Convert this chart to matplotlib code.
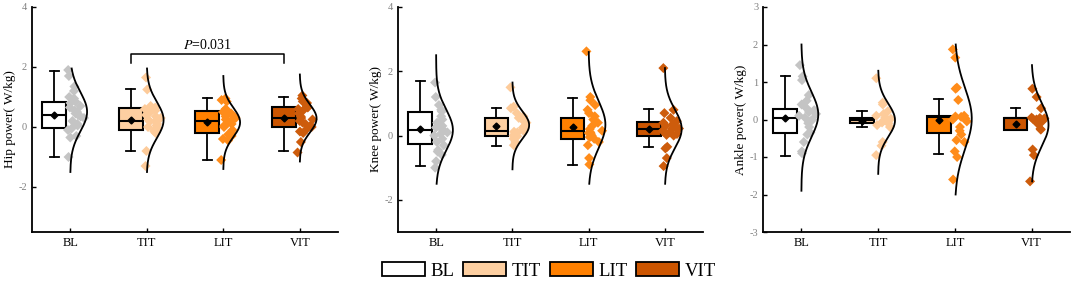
import numpy as np
import matplotlib
matplotlib.use("Agg")
import matplotlib.pyplot as plt
from matplotlib.patches import Patch

plt.rcParams['font.family'] = ['Liberation Serif', 'DejaVu Serif']
plt.rcParams['mathtext.fontset'] = 'stix'
plt.rcParams['axes.unicode_minus'] = False

# ---------------- data ----------------
groups = ['BL', 'TIT', 'LIT', 'VIT']
box_colors = ['#FFFFFF', '#FDCFA1', '#FF8000', '#CC5500']
dot_colors = ['#C4C4C4', '#FDCB9A', '#FF8C1A', '#CD5C0C']

# box statistics per group: BL, TIT, LIT, VIT
hip_whislo = [-0.99, -0.81, -1.09, -0.80]
hip_q1 = [-0.04, -0.11, -0.20, 0.01]
hip_med = [0.40, 0.19, 0.21, 0.31]
hip_q3 = [0.82, 0.63, 0.52, 0.66]
hip_whishi = [1.87, 1.26, 0.96, 1.00]
hip_mean = [0.40, 0.22, 0.18, 0.30]

knee_whislo = [-0.96, -0.33, -0.93, -0.36]
knee_q1 = [-0.26, -0.02, -0.11, 0.00]
knee_med = [0.16, 0.13, 0.13, 0.22]
knee_q3 = [0.73, 0.55, 0.55, 0.42]
knee_whishi = [1.69, 0.86, 1.18, 0.82]
knee_mean = [0.21, 0.29, 0.26, 0.20]

ankle_whislo = [-0.96, -0.20, -0.92, -0.27]
ankle_q1 = [-0.36, -0.10, -0.36, -0.27]
ankle_med = [0.04, -0.02, 0.07, 0.03]
ankle_q3 = [0.27, 0.04, 0.09, 0.04]
ankle_whishi = [1.15, 0.22, 0.55, 0.31]
ankle_mean = [0.04, -0.05, 0.00, -0.11]

# individual observations
hip_points = [
    [1.9, 1.7, 1.35, 1.2, 1.0, 0.95, 0.85, 0.8, 0.7, 0.65, 0.55, 0.5, 0.45, 0.4,
     0.35, 0.3, 0.2, 0.1, 0.05, -0.05, -0.1, -0.3, -0.35, -1.0],
    [1.65, 1.25, 0.7, 0.65, 0.6, 0.55, 0.5, 0.4, 0.35, 0.3, 0.25, 0.2, 0.18, 0.1,
     0.05, 0.0, -0.05, -0.1, -0.15, -0.2, -0.8, -1.3],
    [0.95, 0.9, 0.85, 0.6, 0.55, 0.5, 0.45, 0.35, 0.3, 0.25, 0.2, 0.15, 0.1, 0.05,
     0.0, -0.1, -0.2, -0.25, -0.3, -0.4, -0.45, -1.1],
    [1.05, 0.95, 0.85, 0.8, 0.7, 0.65, 0.6, 0.55, 0.45, 0.35, 0.3, 0.25, 0.2, 0.15,
     0.1, 0.05, 0.0, -0.05, -0.15, -0.2, -0.5, -0.85],
]
knee_points = [
    [1.65, 1.2, 0.95, 0.8, 0.75, 0.6, 0.5, 0.4, 0.3, 0.25, 0.2, 0.15, 0.1, 0.05,
     0.0, -0.1, -0.2, -0.3, -0.45, -0.5, -0.6, -0.8, -1.0],
    [1.5, 0.9, 0.85, 0.7, 0.6, 0.55, 0.5, 0.4, 0.3, 0.25, 0.2, 0.15, 0.12, 0.1,
     0.05, 0.0, -0.02, -0.1, -0.2, -0.3],
    [2.62, 1.2, 1.1, 0.95, 0.8, 0.7, 0.6, 0.5, 0.4, 0.3, 0.2, 0.15, 0.1, 0.08,
     0.05, 0.0, -0.05, -0.1, -0.2, -0.3, -0.7, -0.9],
    [2.1, 0.8, 0.7, 0.55, 0.45, 0.4, 0.35, 0.3, 0.25, 0.22, 0.2, 0.15, 0.12, 0.1,
     0.05, 0.02, 0.0, -0.35, -0.4, -0.7, -0.95],
]
ankle_points = [
    [1.45, 1.15, 1.05, 0.65, 0.5, 0.4, 0.3, 0.25, 0.2, 0.15, 0.1, 0.05, 0.0, -0.05,
     -0.1, -0.2, -0.35, -0.4, -0.6, -0.85, -0.9],
    [1.1, 0.45, 0.4, 0.22, 0.15, 0.1, 0.05, 0.02, 0.0, -0.02, -0.05, -0.08, -0.1,
     -0.15, -0.2, -0.6, -0.7, -0.95],
    [1.87, 1.65, 0.85, 0.82, 0.52, 0.1, 0.08, 0.07, 0.05, 0.03, 0.0, -0.05, -0.2,
     -0.3, -0.4, -0.55, -0.6, -0.85, -1.0, -1.6],
    [0.82, 0.6, 0.3, 0.05, 0.04, 0.03, 0.02, 0.0, -0.02, -0.05, -0.1, -0.25, -0.27,
     -0.8, -0.95, -1.65],
]

# extent of the half-density curves (low, high)
hip_curve_lo = [-1.5, -1.5, -1.4, -1.15]
hip_curve_hi = [1.95, 1.95, 1.7, 1.75]
knee_curve_lo = [-1.5, -1.05, -1.5, -1.5]
knee_curve_hi = [2.5, 1.65, 2.6, 2.1]
ankle_curve_lo = [-1.9, -1.45, -2.0, -1.65]
ankle_curve_hi = [2.0, 1.3, 2.0, 1.45]

panels = [
    dict(label='Hip power( W/kg)', ylim=(-3.5, 4), yticks=[-2, 0, 2, 4],
         stats=(hip_whislo, hip_q1, hip_med, hip_q3, hip_whishi, hip_mean),
         points=hip_points, lo=hip_curve_lo, hi=hip_curve_hi),
    dict(label='Knee power( W/kg)', ylim=(-3, 4), yticks=[-2, 0, 2, 4],
         stats=(knee_whislo, knee_q1, knee_med, knee_q3, knee_whishi, knee_mean),
         points=knee_points, lo=knee_curve_lo, hi=knee_curve_hi),
    dict(label='Ankle power( W/kg)', ylim=(-3, 3), yticks=[-3, -2, -1, 0, 1, 2, 3],
         stats=(ankle_whislo, ankle_q1, ankle_med, ankle_q3, ankle_whishi, ankle_mean),
         points=ankle_points, lo=ankle_curve_lo, hi=ankle_curve_hi),
]

W, H = 1072, 291
fig = plt.figure(figsize=(W / 100, H / 100), dpi=100)
lefts = [32, 398, 763]
widths = [306, 305, 307]

box_off = -0.21
box_w = 0.31
curve_w = 0.22
rng = np.random.default_rng(3)

axes = []
for pi, p in enumerate(panels):
    ax = fig.add_axes([lefts[pi] / W, 59 / H, widths[pi] / W, 225 / H])
    axes.append(ax)
    wl, q1, md, q3, wh, mn = p['stats']
    for gi in range(4):
        pos = gi + 1
        st = [dict(whislo=wl[gi], q1=q1[gi], med=md[gi], q3=q3[gi],
                   whishi=wh[gi], mean=mn[gi], fliers=[])]
        ax.bxp(st, positions=[pos + box_off], widths=box_w, patch_artist=True,
               showmeans=True, showfliers=False, manage_ticks=False,
               capwidths=0.12,
               boxprops=dict(facecolor=box_colors[gi], edgecolor='black', linewidth=1.5),
               medianprops=dict(color='black', linewidth=1.5),
               whiskerprops=dict(color='black', linewidth=1.3),
               capprops=dict(color='black', linewidth=1.3),
               meanprops=dict(marker='D', markerfacecolor='black',
                              markeredgecolor='black', markersize=3.5))
        pts = np.array(p['points'][gi], dtype=float)
        mu, sd = pts.mean(), pts.std()
        yy = np.linspace(p['lo'][gi], p['hi'][gi], 200)
        dens = np.exp(-0.5 * ((yy - mu) / sd) ** 2)
        ax.plot(pos + curve_w * dens, yy, color='black', lw=1.3, zorder=4)
        dpts = np.exp(-0.5 * ((pts - mu) / sd) ** 2)
        u = rng.uniform(0.0, 1.0, len(pts))
        xs = pos - 0.03 + (curve_w * dpts + 0.01) * u
        ax.scatter(xs, pts, marker='D', s=26, color=dot_colors[gi],
                   edgecolors='none', zorder=3)
    ax.set_xlim(0.5, 4.5)
    ax.set_ylim(*p['ylim'])
    ax.set_yticks(p['yticks'])
    ax.set_xticks([1, 2, 3, 4])
    ax.set_xticklabels(groups, fontsize=9)
    ax.tick_params(axis='y', direction='in', length=3, labelsize=7.5,
                   labelcolor='#808080', width=1)
    ax.tick_params(axis='x', direction='in', length=3, width=1)
    for s in ['top', 'right']:
        ax.spines[s].set_visible(False)
    for s in ['left', 'bottom']:
        ax.spines[s].set_linewidth(1.3)
    ax.set_ylabel(p['label'], fontsize=9.5, labelpad=2)

# significance bracket on hip panel
ax0 = axes[0]
x1, x2 = 2 + box_off, 4 + box_off
ax0.plot([x1, x1, x2, x2], [2.12, 2.45, 2.45, 2.12], color='black', lw=1.1)
ax0.text((x1 + x2) / 2, 2.5, r'$\mathit{P}$=0.031', ha='center', va='bottom', fontsize=10)

handles = [Patch(facecolor=c, edgecolor='black', linewidth=1.3, label=g)
           for g, c in zip(groups, box_colors)]
fig.legend(handles=handles, loc='center', bbox_to_anchor=(549 / W, 20 / H), ncol=4,
           frameon=False, fontsize=13.5, handlelength=2.3, handleheight=0.75,
           handletextpad=0.3, columnspacing=0.45, borderpad=0.1)

fig.savefig('out.png', dpi=100)
